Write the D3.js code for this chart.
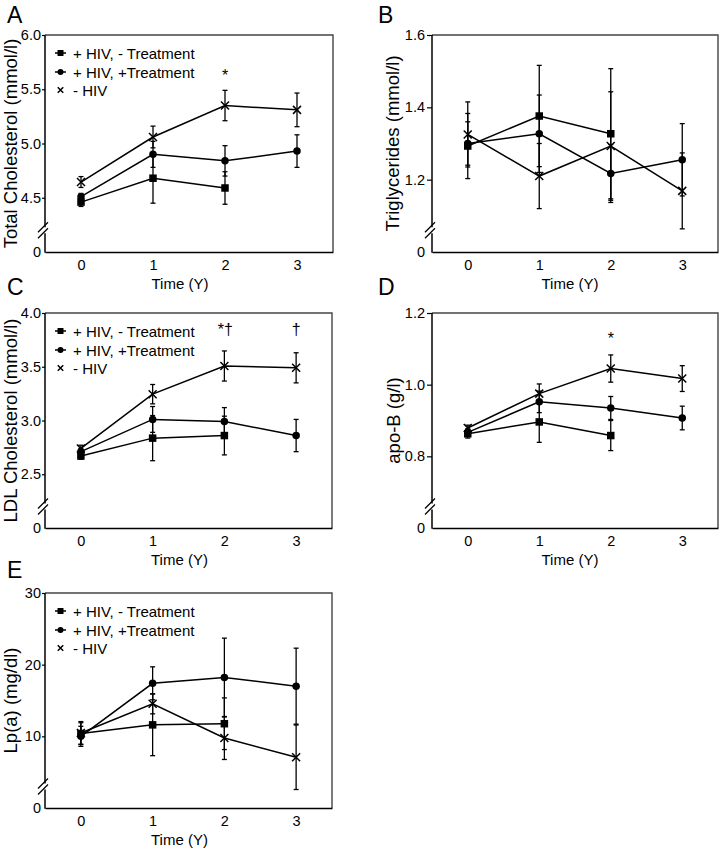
<!DOCTYPE html>
<html><head><meta charset="utf-8">
<script src="https://cdn.jsdelivr.net/npm/d3@7"></script>
<style>
body{margin:0;background:#fff}
svg{display:block}
text{font-family:"Liberation Sans",Arial,sans-serif;fill:#000}
</style>
</head><body>
<svg id="chart" width="719" height="850"></svg>
<script>
// ---------- data ----------
const times = [0, 1, 2, 3];
const timesNoTx = [0, 1, 2];
const seriesNames = ["+ HIV, - Treatment", "+ HIV, +Treatment", "- HIV"];

// A: Total Cholesterol (mmol/l)
const cholNoTx = [4.46, 4.68, 4.59];
const cholNoTxErr = [0.04, 0.23, 0.15];
const cholTx = [4.51, 4.90, 4.84, 4.93];
const cholTxErr = [0.03, 0.12, 0.14, 0.15];
const cholNeg = [4.645, 5.06, 5.35, 5.31];
const cholNegErr = [0.05, 0.10, 0.14, 0.155];
const cholTicks = [4.5, 5.0, 5.5, 6.0];

// B: Triglycerides (mmol/l)
const tgNoTx = [1.293, 1.376, 1.327];
const tgNoTxErr = [0.09, 0.14, 0.18];
const tgTx = [1.30, 1.327, 1.217, 1.255];
const tgTxErr = [0.06, 0.107, 0.08, 0.10];
const tgNeg = [1.325, 1.21, 1.293, 1.169];
const tgNegErr = [0.09, 0.09, 0.15, 0.105];
const tgTicks = [1.2, 1.4, 1.6];

// C: LDL Cholesterol (mmol/l)
const ldlNoTx = [2.67, 2.836, 2.86];
const ldlNoTxErr = [0.03, 0.21, 0.18];
const ldlTx = [2.71, 3.01, 2.99, 2.86];
const ldlTxErr = [0.03, 0.12, 0.13, 0.15];
const ldlNeg = [2.74, 3.245, 3.507, 3.49];
const ldlNegErr = [0.03, 0.09, 0.14, 0.14];
const ldlTicks = [2.5, 3.0, 3.5, 4.0];

// D: apo-B (g/l)
const apoNoTx = [0.863, 0.896, 0.858];
const apoNoTxErr = [0.012, 0.057, 0.042];
const apoTx = [0.867, 0.952, 0.935, 0.907];
const apoTxErr = [0.01, 0.03, 0.032, 0.033];
const apoNeg = [0.879, 0.975, 1.045, 1.017];
const apoNegErr = [0.008, 0.027, 0.038, 0.036];
const apoTicks = [0.8, 1.0, 1.2];

// E: Lp(a) (mg/dl)
const lpaNoTx = [10.4, 11.6, 11.76];
const lpaNoTxErr = [1.5, 4.3, 3.6];
const lpaTx = [10.0, 17.4, 18.2, 17.0];
const lpaTxErr = [1.4, 2.3, 5.5, 5.3];
const lpaNeg = [10.46, 14.54, 9.77, 7.08];
const lpaNegErr = [1.6, 1.4, 3.0, 4.5];
const lpaTicks = [10, 20, 30];

// ---------- layout ----------
const svg = d3.select("#chart");

const panels = [
  {letter:"A", left:45, top:35, w:288, h:217, lo:4.0, hi:6.0, ticks:cholTicks, fmt:d3.format(".1f"),
   ylab:"Total Cholesterol (mmol/l)", ylabX:17, legend:true, col:0, letterY:23,
   data:[[cholNoTx,cholNoTxErr],[cholTx,cholTxErr],[cholNeg,cholNegErr]],
   notes:[{t:2, text:"*", v:5.58}]},
  {letter:"B", left:432, top:35, w:286, h:217, lo:1.0, hi:1.6, ticks:tgTicks, fmt:d3.format(".1f"),
   ylab:"Triglycerides (mmol/l)", ylabX:399, legend:false, col:1, letterY:23,
   data:[[tgNoTx,tgNoTxErr],[tgTx,tgTxErr],[tgNeg,tgNegErr]], notes:[]},
  {letter:"C", left:45, top:313, w:287, h:215, lo:2.0, hi:4.0, ticks:ldlTicks, fmt:d3.format(".1f"),
   ylab:"LDL Cholesterol (mmol/l)", ylabX:17, legend:true, col:0, letterY:295,
   data:[[ldlNoTx,ldlNoTxErr],[ldlTx,ldlTxErr],[ldlNeg,ldlNegErr]],
   notes:[{t:2, text:"*†", v:3.8}, {t:3, text:"†", v:3.8}]},
  {letter:"D", left:432, top:313, w:286, h:215, lo:0.6, hi:1.2, ticks:apoTicks, fmt:d3.format(".1f"),
   ylab:"apo-B (g/l)", ylabX:400, legend:false, col:1, letterY:295,
   data:[[apoNoTx,apoNoTxErr],[apoTx,apoTxErr],[apoNeg,apoNegErr]],
   notes:[{t:2, text:"*", v:1.113}]},
  {letter:"E", left:45, top:593, w:287, h:215, lo:0, hi:30, ticks:lpaTicks, fmt:d3.format("d"),
   ylab:"Lp(a) (mg/dl)", ylabX:17, legend:true, col:0, letterY:578,
   data:[[lpaNoTx,lpaNoTxErr],[lpaTx,lpaTxErr],[lpaNeg,lpaNegErr]], notes:[]}
];

const markers = ["square", "circle", "cross"];

function drawMarker(sel, type, size) {
  if (type === "square") {
    sel.append("rect").attr("x", -size/2).attr("y", -size/2).attr("width", size).attr("height", size).attr("fill", "#000");
  } else if (type === "circle") {
    sel.append("circle").attr("r", size/2).attr("fill", "#000");
  } else {
    const s = size/2;
    sel.append("path").attr("d", `M${-s},${-s}L${s},${s}M${-s},${s}L${s},${-s}`)
      .attr("stroke", "#000").attr("stroke-width", 1.5).attr("fill", "none");
  }
}

panels.forEach(p => {
  const g = svg.append("g").attr("transform", `translate(${p.left},${p.top})`);
  const x = d3.scaleLinear().domain([-0.5, 3.5]).range([0, p.w]);
  let y;
  const brkY = p.h * 0.9;
  if (p.lo === 0) {
    y = d3.scaleLinear().domain([0, p.hi]).range([p.h, 0]);
  } else {
    const brkVal = p.lo + (p.hi - p.lo) * 0.1;
    y = d3.scaleLinear().domain([0, brkVal, p.hi]).range([p.h, brkY, 0]);
  }

  // frame (top & right)
  g.append("path").attr("d", `M0,0H${p.w}V${p.h}`).attr("fill", "none")
    .attr("stroke", "#444").attr("stroke-width", 1.4);

  // x axis
  const gx = g.append("g").attr("transform", `translate(0,${p.h})`)
    .call(d3.axisBottom(x).tickValues(times).tickSize(0).tickSizeOuter(0).tickPadding(8).tickFormat(d3.format("d")));
  gx.select(".domain").attr("stroke", "#000").attr("stroke-width", 1.5);
  gx.selectAll("text").attr("font-size", 14.5).attr("fill", "#000");

  // y axis
  const tickSize = p.col === 0 ? 3 : 5;
  const gy = g.append("g")
    .call(d3.axisLeft(y).tickValues([0, ...p.ticks]).tickSize(tickSize).tickPadding(p.col === 0 ? 1 : 2)
      .tickFormat(d => d === 0 ? "0" : p.fmt(d)));
  gy.select(".domain").remove();
  gy.selectAll(".tick line").attr("stroke", "#000").attr("stroke-width", 1.2);
  gy.selectAll(".tick").filter(d => d === 0).select("line").remove();
  gy.selectAll("text").attr("font-size", 14.5).attr("fill", "#000");

  // y axis line with break
  const gap = 3;
  g.append("line").attr("x1", 0).attr("x2", 0).attr("y1", 0).attr("y2", brkY - gap)
    .attr("stroke", "#000").attr("stroke-width", 1.5);
  g.append("line").attr("x1", 0).attr("x2", 0).attr("y1", brkY + gap).attr("y2", p.h + 0.75)
    .attr("stroke", "#000").attr("stroke-width", 1.5);
  [-gap, gap].forEach(o => {
    g.append("line").attr("x1", -7).attr("y1", brkY + o + 5).attr("x2", 3).attr("y2", brkY + o - 5)
      .attr("stroke", "#000").attr("stroke-width", 1.3);
  });

  // y label
  svg.append("text")
    .attr("transform", `translate(${p.ylabX},${p.top + p.h/2}) rotate(-90)`)
    .attr("text-anchor", "middle").attr("font-size", 18.5).text(p.ylab);

  // x label
  svg.append("text")
    .attr("x", p.left + p.w/2 - (p.col === 0 ? 9 : 5)).attr("y", p.top + p.h + 37)
    .attr("text-anchor", "middle").attr("font-size", 15).text("Time (Y)");

  // panel letter
  svg.append("text").attr("x", p.col === 0 ? 7 : 378)
    .attr("y", p.letterY)
    .attr("font-size", 23).text(p.letter);

  // series
  const line = d3.line().x(d => x(d.t)).y(d => y(d.v));
  const seriesData = p.data.map((s, i) => {
    const ts = i === 0 ? timesNoTx : times;
    return s[0].map((v, j) => ({t: ts[j], v: v, e: s[1][j]}));
  });

  // error bars
  seriesData.forEach(sd => {
    sd.forEach(d => {
      const eb = g.append("g");
      eb.append("line").attr("x1", x(d.t)).attr("x2", x(d.t)).attr("y1", y(d.v - d.e)).attr("y2", y(d.v + d.e))
        .attr("stroke", "#000").attr("stroke-width", 1.3);
      [d.v - d.e, d.v + d.e].forEach(vv => {
        eb.append("line").attr("x1", x(d.t) - 2.5).attr("x2", x(d.t) + 2.5).attr("y1", y(vv)).attr("y2", y(vv))
          .attr("stroke", "#000").attr("stroke-width", 1.3);
      });
    });
  });

  // lines
  seriesData.forEach(sd => {
    g.append("path").datum(sd).attr("d", line).attr("fill", "none")
      .attr("stroke", "#000").attr("stroke-width", 1.5);
  });

  // markers
  seriesData.forEach((sd, i) => {
    sd.forEach(d => {
      const m = g.append("g").attr("transform", `translate(${x(d.t)},${y(d.v)})`);
      drawMarker(m, markers[i], i === 2 ? 8 : 7.5);
    });
  });

  // annotations
  p.notes.forEach(n => {
    g.append("text").attr("x", x(n.t) + (n.text === "*†" ? 1 : 0)).attr("y", y(n.v))
      .attr("text-anchor", "middle").attr("font-size", 16).text(n.text);
  });

  // legend
  if (p.legend) {
    const rows = [18, 37, 55];
    seriesNames.forEach((name, i) => {
      const lg = g.append("g").attr("transform", `translate(0,${rows[i]})`);
      if (i < 2) {
        lg.append("line").attr("x1", 10).attr("x2", 21).attr("y1", 0).attr("y2", 0)
          .attr("stroke", "#000").attr("stroke-width", 1.5);
      }
      const m = lg.append("g").attr("transform", "translate(15.5,0)");
      drawMarker(m, markers[i], i === 2 ? 5.5 : 6);
      lg.append("text").attr("x", 28).attr("y", 5.5).attr("font-size", 15).text(name);
    });
  }
});
</script>
</body></html>
